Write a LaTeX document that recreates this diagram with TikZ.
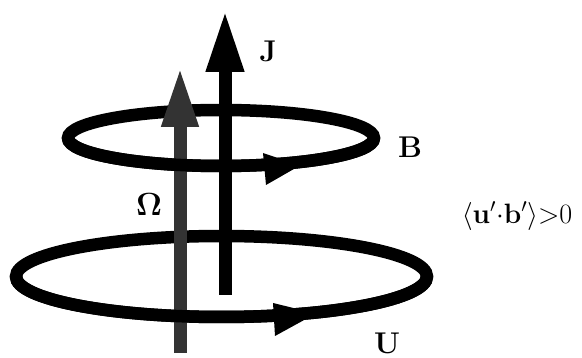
\RequirePackage{fix-cm}
\documentclass[tikz,border=0pt]{standalone}
\usetikzlibrary{arrows.meta}
\begin{document}
\begin{tikzpicture}[x=1pt,y=-1pt,
  loop/.style={line width=12.5pt},
  shaft/.style={line width=13pt},
  omcol/.style={color=black!80},
  lab/.style={font=\fontsize{30}{32}\selectfont\bfseries, inner sep=0pt}]
\useasboundingbox (0,0) rectangle (582,358);
% full loops (back parts)
\draw[loop] (221,138) ellipse [x radius=153, y radius=28];
\draw[loop] (221.5,276.5) ellipse [x radius=205.5, y radius=40.5];
% shafts
\coordinate (Jb) at (225,295);
\coordinate (Jt) at (225,10);
\coordinate (Ob) at (180,353);
\coordinate (Ot) at (180,67);
\draw[shaft, -{Triangle[length=62pt,width=35pt]}] (Jb) -- (Jt);
\draw[shaft, omcol, -{Triangle[length=60pt,width=34pt]}] (Ob) -- (Ot);
% front parts of loops over the shafts
\draw[loop] (68,138) arc[start angle=180, end angle=0, x radius=153, y radius=28];
\draw[loop] (16,276.5) arc[start angle=180, end angle=0, x radius=205.5, y radius=40.5];
% arrowheads on loops
\fill (263,153) -- (300,165.5) -- (266,185) -- cycle;
\fill (273,303) -- (316,313.5) -- (275,336) -- cycle;
% labels
\node[lab] (J) at (268,51) {J};
\node[lab] (B) at (410,147.5) {B};
\node[lab] (U) at (387,343.5) {U};
\node[inner sep=0pt, font=\fontsize{32}{34}\selectfont] (O) at (149,204.5) {$\mathbf{\Omega}$};
\node[inner sep=0pt, font=\fontsize{28}{30}\selectfont] (C) at (517,216) {$\langle\mathbf{u}'{\cdot}\mathbf{b}'\rangle{>}0$};
\end{tikzpicture}
\end{document}
